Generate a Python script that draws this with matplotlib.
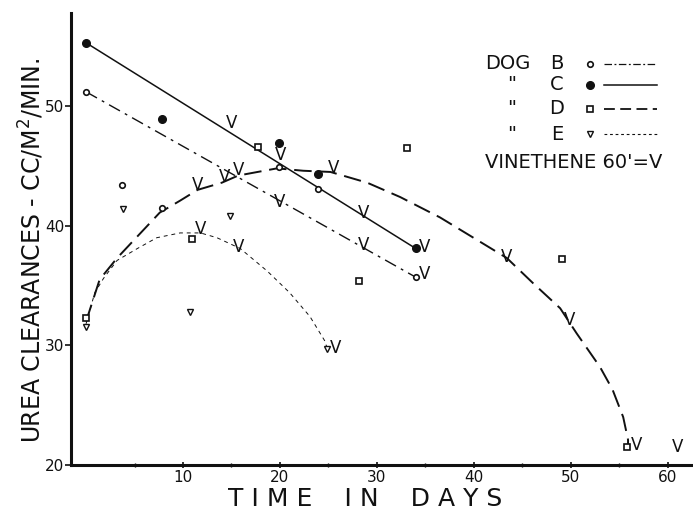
"""Urea clearance vs time after vinethene, dogs B-E (recreated scan)."""

import matplotlib

matplotlib.use("Agg")
import matplotlib.pyplot as plt
from matplotlib.lines import Line2D

# --- measured points -------------------------------------------------------
b_days = [0.0, 3.7, 7.8, 19.9, 23.9, 34.0]
b_clear = [51.2, 43.4, 41.5, 44.9, 43.1, 35.7]

c_days = [0.0, 7.8, 19.9, 23.9, 34.0]
c_clear = [55.3, 48.9, 46.9, 44.3, 38.1]

d_days = [0.0, 10.9, 17.7, 28.1, 33.1, 49.1, 55.8]
d_clear = [32.3, 38.9, 46.6, 35.4, 46.5, 37.2, 21.5]

e_days = [0.0, 3.8, 10.7, 14.8, 24.9]
e_clear = [31.5, 41.4, 32.8, 40.8, 29.7]

# --- hand-drawn trend lines --------------------------------------------------
b_fit_days = [0.0, 34.0]
b_fit_clear = [51.2, 35.7]

c_fit_days = [0.0, 34.0]
c_fit_clear = [55.3, 38.1]

d_fit_days = [0.0, 1.4, 3.2, 5.4, 7.6, 9.7, 11.5, 14.0, 15.7, 19.7, 22.4,
              25.2, 29.0, 32.4, 36.5, 43.4, 46.1, 48.9, 50.6, 53.0, 54.3,
              55.4, 55.9, 55.9]
d_fit_clear = [32.0, 35.5, 37.3, 39.2, 41.1, 42.1, 43.0, 43.6, 44.2, 44.8,
               44.6, 44.5, 43.6, 42.4, 40.7, 37.3, 35.2, 33.1, 31.0, 28.2,
               26.3, 24.0, 22.1, 21.5]

e_fit_days = [0.0, 0.9, 1.8, 3.2, 5.3, 7.3, 9.7, 11.8, 13.5, 15.9, 18.7,
              21.0, 23.1, 24.6, 24.9]
e_fit_clear = [31.8, 34.4, 35.6, 37.1, 38.1, 39.0, 39.4, 39.4, 39.0, 38.1,
               36.2, 34.4, 32.4, 30.4, 29.7]

# --- vinethene 60' doses (V marks) -------------------------------------------
v_days = [15.0, 20.1, 28.6, 34.9,          # C
          14.3, 20.0, 28.6, 34.9,          # B
          11.5, 15.7, 25.5, 43.4, 49.9, 56.8, 61.0,  # D
          11.8, 15.7, 25.7]                # E
v_clear = [48.6, 45.9, 41.1, 38.2,
           44.1, 42.0, 38.4, 36.0,
           43.4, 44.7, 44.8, 37.4, 32.1, 21.7, 21.5,
           39.7, 38.2, 29.8]

x_ticks = [10, 20, 30, 40, 50, 60]
y_ticks = [20, 30, 40, 50]

plt.rcParams["font.family"] = ["DejaVu Sans"]

fig = plt.figure(figsize=(6.93, 5.16), dpi=100)
ax = fig.add_axes([0.1025, 0.099, 0.8975, 0.876])

ink = "#111111"

ax.plot(b_fit_days, b_fit_clear, color=ink, lw=1.0, dashes=(9, 4, 2, 4))
ax.plot(c_fit_days, c_fit_clear, color=ink, lw=1.1)
ax.plot(d_fit_days, d_fit_clear, color=ink, lw=1.4, dashes=(9, 4))
ax.plot(e_fit_days, e_fit_clear, color=ink, lw=0.7, dashes=(4, 4))

ax.plot(b_days, b_clear, "o", ms=4, mfc="white", mec=ink, mew=1.2, ls="none")
ax.plot(c_days, c_clear, "o", ms=5.5, mfc=ink, mec=ink, ls="none")
ax.plot(d_days, d_clear, "s", ms=4, mfc="white", mec=ink, mew=1.2, ls="none")
ax.plot(e_days, e_clear, "v", ms=4.5, mfc="white", mec=ink, mew=1.0, ls="none")

for x, y in zip(v_days, v_clear):
    ax.text(x, y, "V", ha="center", va="center", fontsize=12, color=ink)

ax.set_xlim(-1.55, 62.6)
ax.set_ylim(20, 57.8)
ax.set_xticks(x_ticks)
ax.set_xticks([5, 15, 25, 35, 45, 55], minor=True)
ax.set_yticks(y_ticks)
ax.tick_params(axis="x", direction="inout", length=4, width=1.2, pad=2,
               labelsize=11, colors=ink)
ax.tick_params(axis="x", which="minor", direction="inout", length=3, width=1)
ax.tick_params(axis="y", direction="out", length=4, width=1.2, pad=1,
               labelsize=11, colors=ink)

for side in ("top", "right"):
    ax.spines[side].set_visible(False)
for side in ("left", "bottom"):
    ax.spines[side].set_linewidth(2.2)
    ax.spines[side].set_color(ink)

# legend, hand lettered in the original
rows = [("DOG", "B"), ('"', "C"), ('"', "D"), ('"', "E")]
row_y = [0.887, 0.841, 0.788, 0.732]
styles = [
    dict(marker="o", ms=4, mfc="white", mew=1.2, dashes=(6, 2, 1.5, 2), lw=0.9),
    dict(marker="o", ms=5.5, mfc=ink, dashes=(None, None), lw=1.1),
    dict(marker="s", ms=4, mfc="white", mew=1.2, dashes=(6, 3), lw=1.3),
    dict(marker="v", ms=4.5, mfc="white", mew=1.0, dashes=(2.5, 2.5), lw=0.8),
]
for (lead, dog), y, st in zip(rows, row_y, styles):
    lead_x = 0.666 if lead == "DOG" else 0.701
    ax.text(lead_x, y, lead, transform=ax.transAxes, fontsize=14,
            va="center", ha="left", color=ink)
    ax.text(0.781, y, dog, transform=ax.transAxes, fontsize=14,
            va="center", ha="center", color=ink)
    ax.add_line(Line2D([0.834], [y], transform=ax.transAxes, ls="none",
                       marker=st["marker"], ms=st["ms"], mfc=st["mfc"],
                       mec=ink, mew=st.get("mew", 1.0)))
    seg = Line2D([0.857, 0.942], [y, y], transform=ax.transAxes,
                 color=ink, lw=st["lw"])
    if st["dashes"][0] is not None:
        seg.set_dashes(st["dashes"])
    ax.add_line(seg)
ax.text(0.666, 0.670, "VINETHENE 60'=V", transform=ax.transAxes,
        fontsize=14, va="center", ha="left", color=ink)

fig.text(0.527, 0.032, "T I M E    I N    D A Y S", ha="center",
         va="center", fontsize=18, color=ink)
fig.text(0.046, 0.515, "UREA CLEARANCES - CC/M$^2$/MIN.", rotation=90,
         ha="center", va="center", fontsize=17, color=ink)

fig.savefig("out.png", dpi=100, facecolor="white")
